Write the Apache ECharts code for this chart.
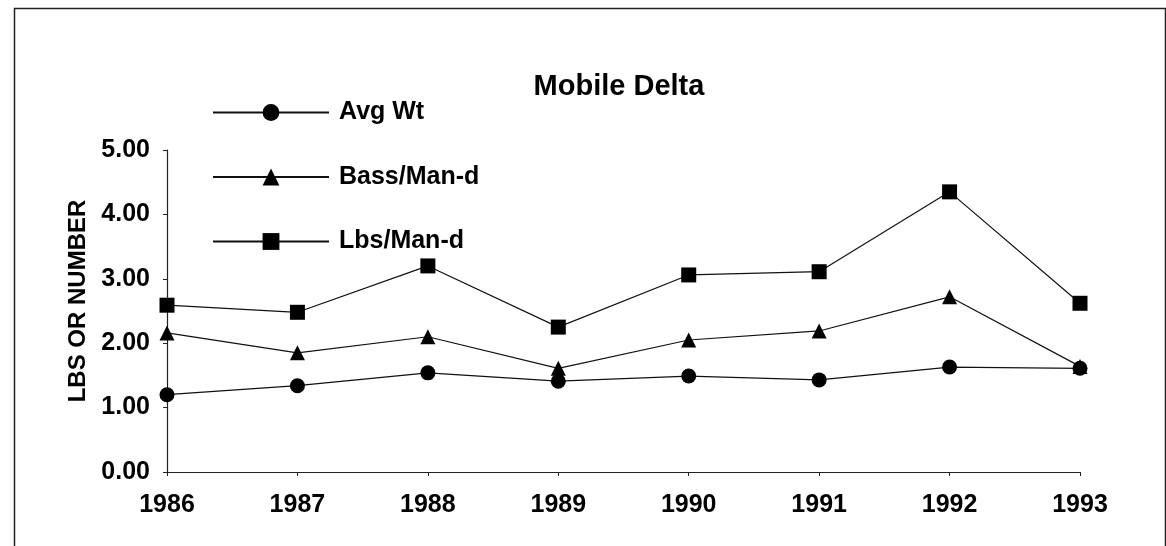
<!DOCTYPE html>
<html>
<head>
<meta charset="utf-8">
<script src="https://cdn.jsdelivr.net/npm/echarts@6/dist/echarts.min.js"></script>
<style>
html,body{margin:0;padding:0;background:#fff;}
#chart{width:1166px;height:546px;}
</style>
</head>
<body>
<div id="chart"></div>
<script>
const categories = ['1986','1987','1988','1989','1990','1991','1992','1993'];
const avgWt   = [1.20, 1.34, 1.54, 1.41, 1.49, 1.43, 1.63, 1.61];
const bassMan = [2.16, 1.85, 2.10, 1.61, 2.05, 2.19, 2.72, 1.64];
const lbsMan  = [2.59, 2.48, 3.20, 2.25, 3.06, 3.11, 4.35, 2.62];
const titleText = 'Mobile Delta';
const yAxisName = 'LBS OR NUMBER';

const FONT = '"Liberation Sans", Arial, Helvetica, sans-serif';
const chart = echarts.init(document.getElementById('chart'), null, {renderer:'canvas'});

function mkSeries(name, data, symbol){
  return {
    name: name, type: 'line', data: data,
    symbol: symbol, symbolSize: 15,
    lineStyle: {color:'#111', width:1.2},
    itemStyle: {color:'#000'},
    animation: false
  };
}

chart.setOption({
  backgroundColor: '#fff',
  animation: false,
  title: {
    text: titleText, left: 614, top: 67, textAlign: 'center',
    textStyle: {fontFamily: FONT, fontSize: 29, fontWeight: 'bold', color: '#000'}
  },
  legend: {
    orient: 'vertical', left: 207, top: 95,
    itemWidth: 116, itemHeight: 21, itemGap: 39.5,
    data: ['Avg Wt','Bass/Man-d','Lbs/Man-d'],
    textStyle: {fontFamily: FONT, fontSize: 25, fontWeight: 'bold', color: '#000', lineHeight: 25, padding:[0,0,0,5]},
    inactiveColor: '#000'
  },
  grid: {left: 167, right: 86, top: 150, bottom: 74, containLabel: false},
  xAxis: {
    type: 'category', data: categories, boundaryGap: false,
    axisLine: {lineStyle: {color:'#222', width:1.2}},
    axisTick: {show:true, length:4, lineStyle:{color:'#222'}},
    axisLabel: {fontFamily: FONT, fontSize: 25, fontWeight: 'bold', color:'#000', margin: 21},
    splitLine: {show:false}
  },
  yAxis: {
    type: 'value', min: 0, max: 5, interval: 1,
    name: yAxisName, nameLocation: 'middle', nameGap: 74, nameRotate: 90,
    nameTextStyle: {fontFamily: FONT, fontSize: 24, fontWeight: 'bold', color:'#000', padding:[0,0,0,20]},
    axisLine: {show:true, lineStyle: {color:'#222', width:1.2}},
    axisTick: {show:true, length:4, lineStyle:{color:'#222'}},
    axisLabel: {fontFamily: FONT, fontSize: 25, fontWeight: 'bold', color:'#000', margin: 17,
      formatter: v => v.toFixed(2)},
    splitLine: {show:false}
  },
  graphic: [{
    type: 'rect', left: 12, top: 6, z: -1,
    shape: {width: 1151, height: 560},
    style: {fill: 'none', stroke: '#222', lineWidth: 1.5}
  }],
  series: [
    mkSeries('Avg Wt', avgWt, 'circle'),
    mkSeries('Bass/Man-d', bassMan, 'triangle'),
    mkSeries('Lbs/Man-d', lbsMan, 'rect')
  ]
});
</script>
</body>
</html>
